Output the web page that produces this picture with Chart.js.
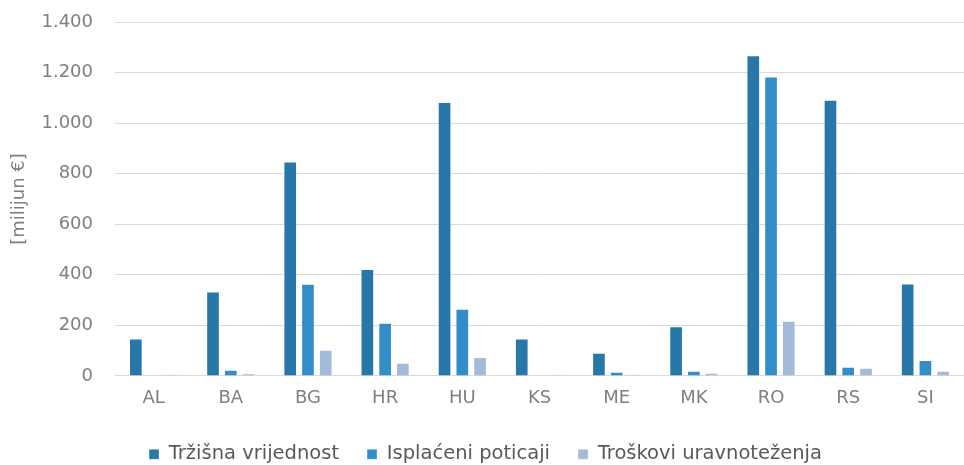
<!DOCTYPE html>
<html>
<head>
<meta charset="utf-8">
<script src="https://cdn.jsdelivr.net/npm/chart.js@4/dist/chart.umd.min.js"></script>
<style>
html,body{margin:0;padding:0;background:#fff;}
#wrap{width:964px;height:465px;position:relative;overflow:hidden;}
</style>
</head>
<body>
<div id="wrap"><canvas id="c" width="964" height="465"></canvas></div>
<script>
const categories = ["AL","BA","BG","HR","HU","KS","ME","MK","RO","RS","SI"];
const trzisnaVrijednost = [148,334,848,423,1084,148,92,196,1268,1092,366];
const isplaceniPoticaji = [0,24,365,210,266,0,16,20,1184,36,63];
const troskoviUravnotezenja = [5,10,103,52,75,4,5,12,218,32,20];
const seriesNames = ["Tržišna vrijednost","Isplaćeni poticaji","Troškovi uravnoteženja"];
const yTicks = [0,200,400,600,800,1000,1200,1400];

const fontFamily = "'DejaVu Sans', sans-serif";
const fmt = v => v.toString().replace(/\B(?=(\d{3})+(?!\d))/g, ".");

new Chart(document.getElementById('c'), {
  type: 'bar',
  data: {
    labels: categories,
    datasets: [
      {label: seriesNames[0], data: trzisnaVrijednost, backgroundColor: '#2778a9', borderColor: 'rgba(255,255,255,0.35)', borderWidth: 1},
      {label: seriesNames[1], data: isplaceniPoticaji, backgroundColor: '#338dc8', borderColor: 'rgba(255,255,255,0.35)', borderWidth: 1},
      {label: seriesNames[2], data: troskoviUravnotezenja, backgroundColor: '#a3bbd8', borderColor: 'rgba(255,255,255,0.35)', borderWidth: 1}
    ]
  },
  options: {
    responsive: false,
    animation: false,
    layout: {padding: {left: 0, right: -7, top: 22, bottom: -9}},
    datasets: {bar: {categoryPercentage: 0.69, barPercentage: 0.77}},
    plugins: {
      legend: {
        position: 'bottom',
        labels: {
          boxWidth: 10, boxHeight: 10, padding: 28,
          color: '#595959',
          font: {family: fontFamily, size: 19.5}
        }
      },
      tooltip: {enabled: false}
    },
    scales: {
      x: {
        grid: {display: false, drawTicks: false},
        border: {color: '#d9d9d9', width: 1},
        ticks: {color: '#7f7f7f', font: {family: fontFamily, size: 18}, padding: 12},
        afterFit: s => { s.height -= 5; }
      },
      y: {
        min: 0, max: 1400,
        afterBuildTicks: axis => { axis.ticks = yTicks.map(v => ({value: v})); },
        grid: {color: '#d9d9d9', drawTicks: false, lineWidth: 1},
        border: {display: false},
        ticks: {color: '#7f7f7f', font: {family: fontFamily, size: 18}, padding: 22, callback: v => fmt(v)},
        title: {display: true, text: '[milijun €]', color: '#7f7f7f', font: {family: fontFamily, size: 18}, padding: {top: 9, bottom: 0}},
        afterFit: s => { s.width = 115; s.paddingTop = 0; s.paddingBottom = 0; }
      }
    }
  }
});
</script>
</body>
</html>
